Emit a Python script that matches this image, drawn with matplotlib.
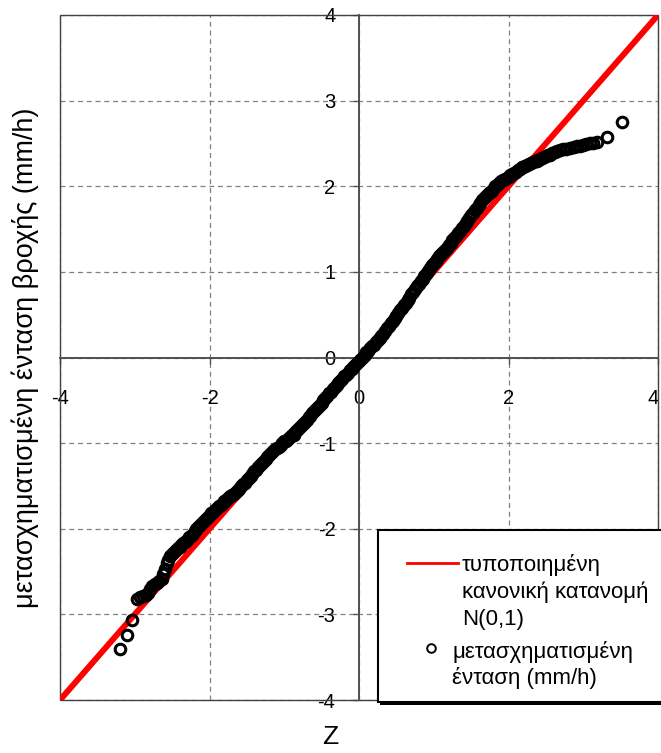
import matplotlib
matplotlib.use("Agg")
import matplotlib.pyplot as plt
from matplotlib.patches import Rectangle
from matplotlib.lines import Line2D
from matplotlib.transforms import ScaledTranslation

plt.rcParams['font.family'] = ['Liberation Sans', 'DejaVu Sans']
plt.rcParams['axes.unicode_minus'] = False

# fitted standard normal N(0,1)
line_z = [-4, 4]
line_y = [-4, 4]

# transformed rainfall intensity vs standard normal variate
z_scores = [
    -3.20, -3.10, -3.04, -2.97, -2.93, -2.89, -2.85, -2.82, -2.79, -2.77,
    -2.73, -2.70, -2.67, -2.64, -2.62, -2.60, -2.57, -2.55, -2.53, -2.50, -2.47,
    -2.450, -2.425, -2.400, -2.375, -2.350, -2.325, -2.300, -2.275, -2.250, -2.225,
    -2.200, -2.175, -2.150, -2.125, -2.100, -2.075, -2.050, -2.025, -2.000, -1.975,
    -1.950, -1.925, -1.900, -1.875, -1.850, -1.825, -1.800, -1.775, -1.750, -1.725,
    -1.700, -1.675, -1.650, -1.625, -1.600, -1.575, -1.550, -1.525, -1.500, -1.475,
    -1.450, -1.425, -1.400, -1.375, -1.350, -1.325, -1.300, -1.275, -1.250, -1.225,
    -1.200, -1.175, -1.150, -1.125, -1.100, -1.075, -1.050, -1.025, -1.000, -0.975,
    -0.950, -0.925, -0.900, -0.875, -0.850, -0.825, -0.800, -0.775, -0.750, -0.725,
    -0.700, -0.675, -0.650, -0.625, -0.600, -0.575, -0.550, -0.525, -0.500, -0.475,
    -0.450, -0.425, -0.400, -0.375, -0.350, -0.325, -0.300, -0.275, -0.250, -0.225,
    -0.200, -0.175, -0.150, -0.125, -0.100, -0.075, -0.050, -0.025, 0.000, 0.025,
    0.050, 0.075, 0.100, 0.125, 0.150, 0.175, 0.200, 0.225, 0.250, 0.275,
    0.300, 0.325, 0.350, 0.375, 0.400, 0.425, 0.450, 0.475, 0.500, 0.525,
    0.550, 0.575, 0.600, 0.625, 0.650, 0.675, 0.700, 0.725, 0.750, 0.775,
    0.800, 0.825, 0.850, 0.875, 0.900, 0.925, 0.950, 0.975, 1.000, 1.025,
    1.050, 1.075, 1.100, 1.125, 1.150, 1.175, 1.200, 1.225, 1.250, 1.275,
    1.300, 1.325, 1.350, 1.375, 1.400, 1.425, 1.450, 1.475, 1.500, 1.525,
    1.550, 1.575, 1.600, 1.625, 1.650, 1.675, 1.700, 1.725, 1.750, 1.775,
    1.800, 1.825, 1.850, 1.875, 1.900, 1.925, 1.950, 1.975, 2.000, 2.025,
    2.050, 2.075, 2.100, 2.125, 2.150, 2.175, 2.200, 2.225, 2.250, 2.275,
    2.300, 2.325, 2.350, 2.375, 2.400, 2.425, 2.450, 2.475, 2.500, 2.525, 2.550,
    2.58, 2.62, 2.65, 2.69, 2.73, 2.77, 2.82, 2.87, 2.92, 2.96,
    3.00, 3.04, 3.09, 3.13, 3.18, 3.32, 3.52,
]
rain_t = [
    -3.40, -3.24, -3.07, -2.82, -2.80, -2.79, -2.77, -2.75, -2.70, -2.67,
    -2.65, -2.63, -2.61, -2.59, -2.53, -2.47, -2.40, -2.36, -2.32, -2.29, -2.27,
    -2.25, -2.23, -2.21, -2.19, -2.17, -2.15, -2.13, -2.10, -2.08, -2.06,
    -2.03, -2.00, -1.98, -1.96, -1.93, -1.91, -1.89, -1.86, -1.84, -1.82,
    -1.80, -1.78, -1.76, -1.74, -1.72, -1.70, -1.68, -1.66, -1.64, -1.62,
    -1.60, -1.59, -1.57, -1.55, -1.53, -1.50, -1.48, -1.46, -1.43, -1.41,
    -1.38, -1.36, -1.33, -1.31, -1.28, -1.26, -1.23, -1.21, -1.19, -1.16,
    -1.14, -1.11, -1.09, -1.07, -1.06, -1.04, -1.02, -1.00, -0.98, -0.97,
    -0.95, -0.93, -0.91, -0.90, -0.87, -0.85, -0.82, -0.80, -0.78, -0.75,
    -0.73, -0.70, -0.68, -0.65, -0.63, -0.60, -0.58, -0.55, -0.53, -0.50,
    -0.47, -0.45, -0.42, -0.40, -0.37, -0.35, -0.32, -0.30, -0.27, -0.25,
    -0.22, -0.20, -0.18, -0.15, -0.13, -0.11, -0.09, -0.06, -0.04, -0.02,
    0.01, 0.03, 0.06, 0.08, 0.11, 0.13, 0.15, 0.18, 0.20, 0.23,
    0.25, 0.28, 0.31, 0.34, 0.37, 0.40, 0.43, 0.46, 0.49, 0.52,
    0.55, 0.58, 0.61, 0.64, 0.67, 0.70, 0.74, 0.77, 0.80, 0.83,
    0.86, 0.89, 0.92, 0.95, 0.98, 1.01, 1.05, 1.08, 1.10, 1.13,
    1.15, 1.18, 1.21, 1.23, 1.26, 1.28, 1.31, 1.34, 1.37, 1.40,
    1.42, 1.45, 1.48, 1.51, 1.54, 1.57, 1.60, 1.63, 1.66, 1.69,
    1.72, 1.75, 1.78, 1.81, 1.84, 1.86, 1.89, 1.91, 1.93, 1.95,
    1.98, 2.00, 2.02, 2.04, 2.06, 2.07, 2.09, 2.10, 2.11, 2.13,
    2.14, 2.16, 2.17, 2.19, 2.20, 2.22, 2.23, 2.24, 2.25, 2.26,
    2.27, 2.28, 2.29, 2.30, 2.31, 2.32, 2.33, 2.34, 2.35, 2.36, 2.37,
    2.39, 2.40, 2.41, 2.42, 2.43, 2.44, 2.45, 2.46, 2.47, 2.47,
    2.48, 2.49, 2.51, 2.51, 2.52, 2.57, 2.75,
]

ticks_x = [-4, -2, 0, 2, 4]
ticks_y = [-4, -3, -2, -1, 0, 1, 2, 3, 4]

legend_line = ['τυποποιημένη', 'κανονική κατανομή', 'N(0,1)']
legend_pts = ['μετασχηματισμένη', 'ένταση (mm/h)']
ylabel = 'μετασχηματισμένη ένταση βροχής (mm/h)'

W, H = 661, 753
fig = plt.figure(figsize=(W / 100, H / 100), dpi=100)
ax = fig.add_axes([60 / W, 53 / H, 598 / W, 685 / H])

ax.plot(line_z, line_y, color='#ff0000', lw=4.3, zorder=3, solid_capstyle='butt')
ax.plot(z_scores, rain_t, 'o', mfc='none', mec='black', ms=7.6, mew=2.2, zorder=4)

ax.set_xlim(-4, 4)
ax.set_ylim(-4, 4)
ax.set_xticks(ticks_x)
ax.set_yticks(ticks_y)

for s in ['top', 'right']:
    ax.spines[s].set_visible(False)
for s in ['left', 'bottom']:
    ax.spines[s].set_position(('data', 0))
    ax.spines[s].set_color('#505050')
    ax.spines[s].set_linewidth(1.4)
    ax.spines[s].set_zorder(2)

ax.tick_params(axis='x', direction='out', length=4, width=1, color='#505050',
               labelsize=14.5, pad=19)
ax.tick_params(axis='y', direction='out', length=4, width=1, color='#505050',
               labelsize=14.5, pad=13)

# keep the edge label "4" inside the picture
shift = ScaledTranslation(-5 / 100, 0, fig.dpi_scale_trans)
lbl = ax.get_xticklabels()[-1]
lbl.set_transform(lbl.get_transform() + shift)

ax.grid(True, color='#808080', lw=0.9, linestyle=(0, (4, 3)), zorder=1)
ax.set_axisbelow(True)

# outer frame
ax.add_patch(Rectangle((0, 0), 1, 1, transform=ax.transAxes, fill=False,
                       ec='#404040', lw=1.0, zorder=2, clip_on=False))

# legend box (sticks out past the right edge)
fig.patches.append(Rectangle((380 / W, 1 - 705 / H), 300 / W, 173 / H,
                             transform=fig.transFigure, fc='black', ec='black',
                             lw=0, zorder=9))
fig.patches.append(Rectangle((378 / W, 1 - 702 / H), 300 / W, 172 / H,
                             transform=fig.transFigure, fc='white', ec='black',
                             lw=1.5, zorder=10))
fig.lines.append(Line2D([407 / W, 458 / W], [1 - 563 / H, 1 - 563 / H],
                        transform=fig.transFigure, color='#ff0000', lw=2, zorder=11))
fig.lines.append(Line2D([431 / W], [1 - 648 / H], transform=fig.transFigure,
                        marker='o', mfc='none', mec='black', ms=6.2, mew=1.4, zorder=11))
for i, t in enumerate(legend_line):
    fig.text(462 / W, 1 - (565 + 27 * i) / H, t, fontsize=16, va='center',
             ha='left', zorder=11)
for i, t in enumerate(legend_pts):
    fig.text(452 / W, 1 - (652 + 26 * i) / H, t, fontsize=16, va='center',
             ha='left', zorder=11)

fig.text(25 / W, 1 - 358 / H, ylabel, rotation=90, fontsize=19.5,
         va='center', ha='center')
fig.text(330 / W, 1 - 737 / H, 'Z', fontsize=19, va='center', ha='center')

fig.savefig('out.png', dpi=100, facecolor='white')
